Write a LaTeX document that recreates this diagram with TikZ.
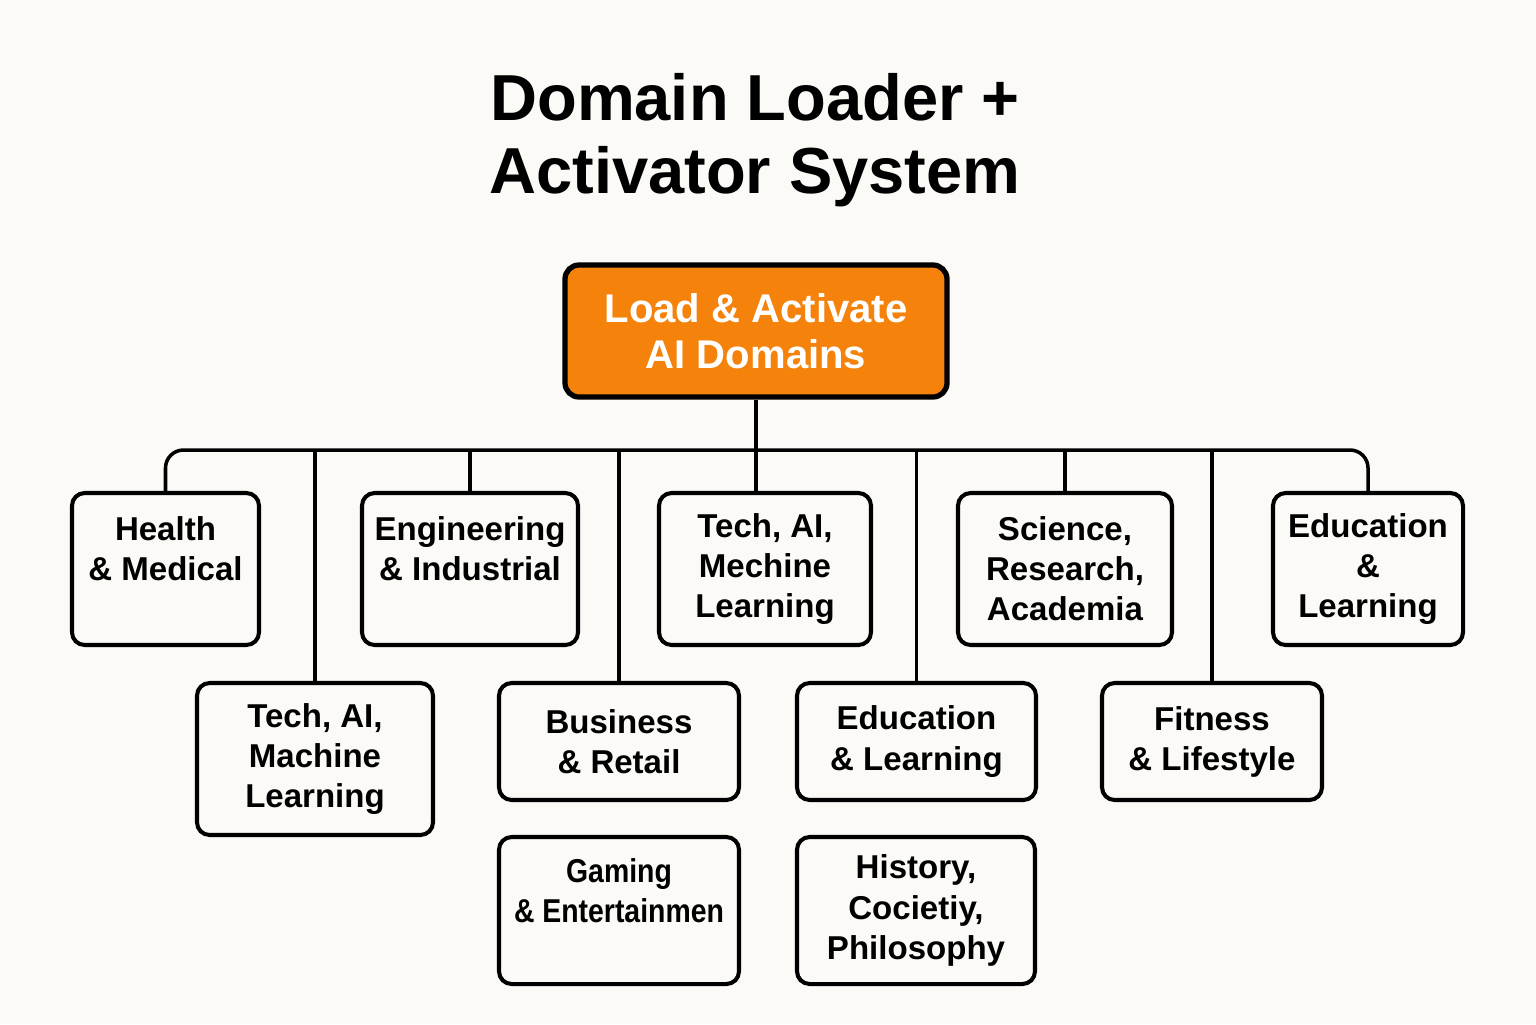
\documentclass[tikz,border=0pt]{standalone}
\usepackage{fontspec}
\setmainfont{Liberation Sans}
\newfontfamily\narrowsans[FakeStretch=0.86]{Liberation Sans}
\usepackage{xcolor}
\usepackage{tikz}
\usetikzlibrary{positioning}

\definecolor{paper}{HTML}{FBFAF7}
\definecolor{loadorange}{HTML}{F5820B}

\begin{document}
\begin{tikzpicture}[
    title_style/.style={align=center, font=\fontsize{18.5}{20.8}\selectfont\bfseries},
    load_style/.style={draw=black, fill=loadorange, text=white, line width=1.5pt, rounded corners=4pt,
        align=center, font=\fontsize{11.4}{13.1}\selectfont\bfseries, minimum width=3.82cm, minimum height=1.32cm},
    domain_style/.style={draw=black, fill=paper, line width=1.15pt, rounded corners=3.6pt, inner sep=0pt,
        align=center, font=\fontsize{9.4}{11.4}\selectfont\bfseries},
    tall_box/.style={domain_style, minimum height=1.52cm},
    short_box/.style={domain_style, minimum height=1.17cm},
    low_box/.style={domain_style, minimum height=1.47cm},
    wire_style/.style={black, line width=1pt}
]
    % Page
    \fill[paper] (0,0) rectangle (15.36,-10.24);
    \useasboundingbox (0,0) rectangle (15.36,-10.24);

    % Title and root
    \node[title_style] (title) at (7.55,-1.40) {Domain Loader +\\Activator System};
    \node[load_style] (load) at (7.56,-3.31) {Load \& Activate\\AI Domains};

    % Upper row
    \node[tall_box, minimum width=1.87cm] (health) at (1.655,-5.69) {Health\\\& Medical\\~};
    \node[tall_box, minimum width=2.16cm] (eng) at (4.70,-5.69) {Engineering\\\& Industrial\\~};
    \node[tall_box, minimum width=2.12cm] (techmech) at (7.65,-5.69) {Tech, AI,\\Mechine\\Learning};
    \node[tall_box, minimum width=2.14cm] (sci) at (10.65,-5.69) {Science,\\Research,\\Academia};
    \node[tall_box, minimum width=1.90cm] (edu1) at (13.68,-5.69) {Education\\\&\\Learning};

    % Lower row
    \node[tall_box, minimum width=2.36cm] (techml) at (3.15,-7.59) {Tech, AI,\\Machine\\Learning};
    \node[short_box, minimum width=2.40cm] (bus) at (6.19,-7.415) {Business\\\& Retail};
    \node[short_box, minimum width=2.39cm] (edu2) at (9.165,-7.415) {Education\\\& Learning};
    \node[short_box, minimum width=2.20cm] (fit) at (12.12,-7.415) {Fitness\\\& Lifestyle};

    % Bottom row
    \node[low_box, minimum width=2.40cm] (game) at (6.19,-9.105) {\narrowsans Gaming\\\narrowsans\& Entertainmen\\~};
    \node[low_box, minimum width=2.38cm] (hist) at (9.16,-9.105) {History,\\Cocietiy,\\Philosophy};

    % Connectors
    \coordinate (hub) at (7.55,-4.50);
    \draw[wire_style] (load.south) -- (load.south |- techmech.north);
    \draw[wire_style, rounded corners=0.18cm] (health.north) |- (hub) -| (edu1.north);
    \foreach \n in {techml, eng, bus, edu2, sci, fit}
        \draw[wire_style] (\n.north |- hub) -- (\n.north);
\end{tikzpicture}
\end{document}
